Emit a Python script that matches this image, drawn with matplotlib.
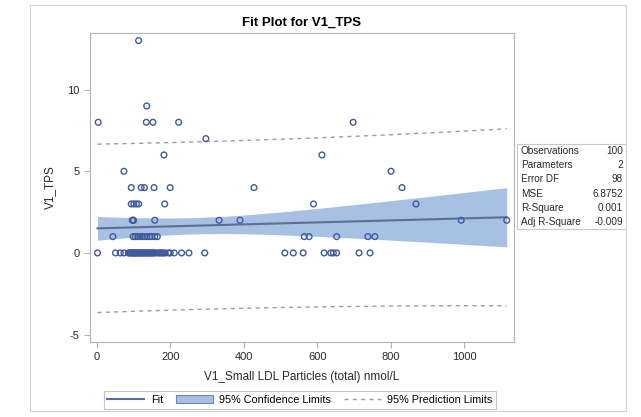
import numpy as np
import matplotlib.pyplot as plt
from matplotlib.patches import Rectangle, Patch
from matplotlib.lines import Line2D

plt.rcParams['font.family'] = ['Liberation Sans', 'DejaVu Sans']
plt.rcParams['axes.unicode_minus'] = False

# V1_Small LDL Particles (total) nmol/L and V1_TPS, grouped by TPS level
tps_13 = [114]
tps_9 = [136]
tps_8 = [4, 135, 153, 223, 698]
tps_7 = [297]
tps_6 = [183, 613]
tps_5 = [74, 801]
tps_4 = [94, 121, 130, 156, 200, 428, 831]
tps_3 = [94, 101, 108, 114, 185, 590, 869]
tps_2 = [97, 99, 100, 158, 333, 390, 992, 1116]
tps_1 = [44, 99, 105, 112, 118, 124, 130, 137, 145, 150, 158, 165, 565, 578, 653, 738, 757]
tps_0 = [2, 51, 64, 74,
         86, 89, 92, 95, 97, 99, 102, 104, 107, 109, 112, 114, 117, 119, 122,
         125, 127, 130, 133, 135, 138, 141, 144, 147, 150, 153, 156, 159,
         166, 170, 174, 178, 182, 186, 195, 200,
         211, 231, 251, 294, 512, 535, 562, 619, 637, 644, 653, 714, 744]

groups = {13: tps_13, 9: tps_9, 8: tps_8, 7: tps_7, 6: tps_6, 5: tps_5,
          4: tps_4, 3: tps_3, 2: tps_2, 1: tps_1, 0: tps_0}

stat_names = ["Observations", "Parameters", "Error DF", "MSE", "R-Square", "Adj R-Square"]
stat_values = ["100", "2", "98", "6.8752", "0.001", "-0.009"]

x = np.array([v for k, vals in groups.items() for v in vals], dtype=float)
y = np.array([k for k, vals in groups.items() for v in vals], dtype=float)

# simple linear regression with 95% confidence / prediction limits
n = len(x)
slope, intercept = np.polyfit(x, y, 1)
resid = y - (intercept + slope * x)
s = np.sqrt(np.sum(resid ** 2) / (n - 2))
t_crit = 1.9845
xbar = x.mean()
sxx = np.sum((x - xbar) ** 2)
xs = np.linspace(x.min(), x.max(), 200)
yhat = intercept + slope * xs
ci = t_crit * s * np.sqrt(1 / n + (xs - xbar) ** 2 / sxx)
pi = t_crit * s * np.sqrt(1 + 1 / n + (xs - xbar) ** 2 / sxx)

marker_col = '#3e5a9e'
fit_col = '#5b6f98'
band_col = '#a8c0e2'
pred_col = '#9c98b8'
axis_col = '#b4b4b4'
text_col = '#2a2a2a'

fig = plt.figure(figsize=(6.41, 4.17), dpi=100)
ax = fig.add_axes([0.140, 0.180, 0.662, 0.741])

ax.fill_between(xs, yhat - ci, yhat + ci, color=band_col, lw=0, zorder=1)
ax.plot(xs, yhat, color=fit_col, lw=1.5, zorder=2)
ax.plot(xs, yhat + pi, color=pred_col, lw=1, ls=(0, (3, 3)), zorder=2)
ax.plot(xs, yhat - pi, color=pred_col, lw=1, ls=(0, (3, 3)), zorder=2)
ax.scatter(x, y, s=17, facecolors='none', edgecolors=marker_col, linewidths=1.0, zorder=3)

ax.set_xlim(-19, 1136)
ax.set_ylim(-5.45, 13.47)
ax.set_xticks([0, 200, 400, 600, 800, 1000])
ax.set_yticks([-5, 0, 5, 10])
for sp in ax.spines.values():
    sp.set_color(axis_col)
ax.tick_params(colors=axis_col, labelcolor=text_col, labelsize=8, length=4)
ax.set_xlabel("V1_Small LDL Particles (total) nmol/L", fontsize=8.5, color=text_col, labelpad=6)
ax.set_ylabel("V1_TPS", fontsize=8.5, color=text_col, labelpad=8)
ax.set_title("Fit Plot for V1_TPS", fontsize=9.5, fontweight='bold', pad=5)

# statistics table at the right of the plot
tbl_left, tbl_right = 517 / 641, 626 / 641
tbl_top, tbl_bot = 1 - 144 / 417, 1 - 229 / 417
fig.patches.append(Rectangle((tbl_left, tbl_bot), tbl_right - tbl_left, tbl_top - tbl_bot,
                             transform=fig.transFigure, fill=False, ec='#c8c8c8', lw=0.8))
row_h = (tbl_top - tbl_bot) / len(stat_names)
for i, (name, val) in enumerate(zip(stat_names, stat_values)):
    yy = tbl_top - row_h * (i + 0.5)
    fig.text(tbl_left + 0.006, yy, name, fontsize=7.2, va='center', ha='left', color=text_col)
    fig.text(tbl_right - 0.005, yy, val, fontsize=7.2, va='center', ha='right', color=text_col)

# outer frame around the graph
fig.patches.append(Rectangle((30 / 641, 1 - 411 / 417), 596 / 641, 406 / 417,
                             transform=fig.transFigure, fill=False, ec='#d4d4d4', lw=0.8))

handles = [Line2D([0], [0], color=fit_col, lw=1.5),
           Patch(facecolor=band_col, edgecolor='#6f86b4', lw=0.8),
           Line2D([0], [0], color=pred_col, lw=1, ls=(0, (3, 3)))]
labels = ["Fit", "95% Confidence Limits", "95% Prediction Limits"]
leg = fig.legend(handles, labels, loc='center', bbox_to_anchor=(0.468, 1 - 400 / 417), ncol=3,
                 fontsize=7.8, frameon=True, fancybox=False, handlelength=3.4,
                 columnspacing=1.2, handletextpad=0.6, borderpad=0.35)
leg.get_frame().set_edgecolor('#b8b8b8')
leg.get_frame().set_linewidth(0.8)

fig.savefig("out.png", dpi=100)
